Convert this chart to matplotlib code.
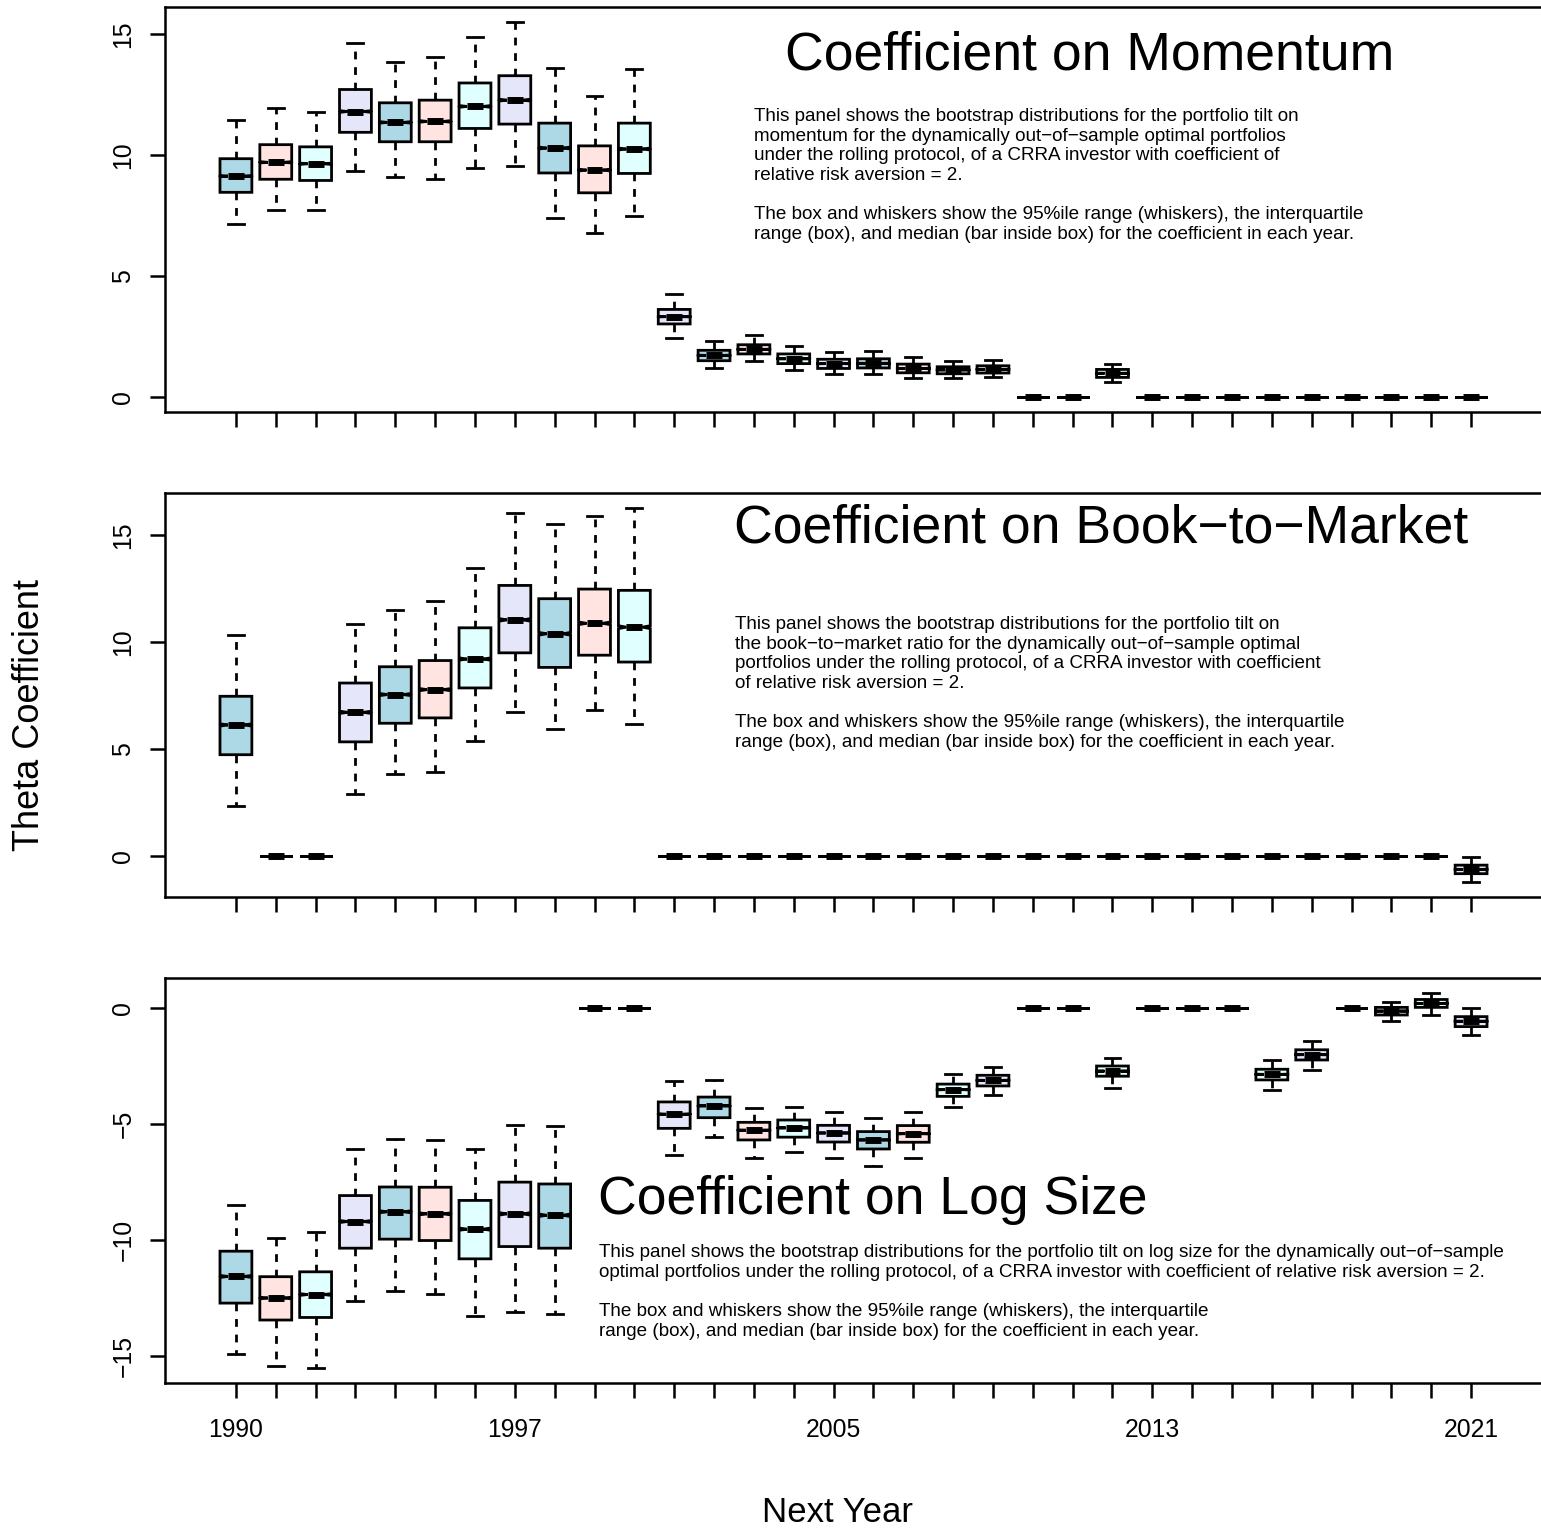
import matplotlib
matplotlib.use("Agg")
import matplotlib.pyplot as plt

plt.rcParams["font.family"] = ["Liberation Sans", "DejaVu Sans"]

# years on the x axis, only some of them get a printed label
years = list(range(1990, 2022))
shown_years = [1990, 1997, 2005, 2013, 2021]

box_fills = ["#ADD8E6", "#FFE4E1", "#E0FFFF", "#E6E6FA"]  # lightblue, mistyrose, lightcyan, lavender

# --- momentum panel: 95% whiskers, quartiles and median per year
mom_hi = [11.45, 11.96, 11.79, 14.63, 13.86, 14.05, 14.89, 15.50, 13.58, 12.44, 13.54,
          4.26, 2.31, 2.56, 2.09, 1.87, 1.90, 1.65, 1.49, 1.52, 0, 0, 1.36,
          0, 0, 0, 0, 0, 0, 0, 0, 0]
mom_q3 = [9.85, 10.43, 10.34, 12.71, 12.16, 12.27, 12.98, 13.28, 11.32, 10.38, 11.32,
          3.62, 1.93, 2.16, 1.78, 1.56, 1.58, 1.36, 1.25, 1.29, 0, 0, 1.14,
          0, 0, 0, 0, 0, 0, 0, 0, 0]
mom_med = [9.13, 9.70, 9.64, 11.80, 11.35, 11.39, 12.01, 12.27, 10.29, 9.38, 10.25,
           3.32, 1.72, 1.97, 1.58, 1.38, 1.39, 1.18, 1.12, 1.14, 0, 0, 0.98,
           0, 0, 0, 0, 0, 0, 0, 0, 0]
mom_q1 = [8.46, 9.00, 8.95, 10.94, 10.55, 10.55, 11.10, 11.28, 9.26, 8.44, 9.24,
          3.02, 1.50, 1.78, 1.38, 1.18, 1.20, 1.00, 0.96, 0.99, 0, 0, 0.81,
          0, 0, 0, 0, 0, 0, 0, 0, 0]
mom_lo = [7.16, 7.71, 7.75, 9.34, 9.10, 9.02, 9.48, 9.55, 7.40, 6.76, 7.48,
          2.43, 1.18, 1.47, 1.13, 0.94, 0.94, 0.77, 0.79, 0.83, 0, 0, 0.63,
          0, 0, 0, 0, 0, 0, 0, 0, 0]

# --- book-to-market panel
btm_hi = [10.35, 0, 0, 10.84, 11.50, 11.92, 13.47, 16.04, 15.51, 15.88, 16.27] + [0] * 20 + [-0.03]
btm_q3 = [7.47, 0, 0, 8.09, 8.85, 9.14, 10.67, 12.65, 12.03, 12.48, 12.42] + [0] * 20 + [-0.42]
btm_med = [6.13, 0, 0, 6.72, 7.55, 7.78, 9.21, 11.04, 10.39, 10.88, 10.70] + [0] * 20 + [-0.62]
btm_q1 = [4.74, 0, 0, 5.34, 6.21, 6.46, 7.86, 9.50, 8.82, 9.39, 9.07] + [0] * 20 + [-0.82]
btm_lo = [2.33, 0, 0, 2.89, 3.83, 3.94, 5.40, 6.74, 5.95, 6.81, 6.19] + [0] * 20 + [-1.21]

# --- log size panel
size_hi = [-8.51, -9.93, -9.67, -6.06, -5.63, -5.68, -6.06, -5.06, -5.09, 0, 0,
           -3.15, -3.12, -4.31, -4.27, -4.47, -4.74, -4.48, -2.86, -2.53, 0, 0,
           -2.14, 0, 0, 0, -2.26, -1.42, 0, 0.25, 0.65, 0.00]
size_q3 = [-10.49, -11.59, -11.38, -8.09, -7.72, -7.73, -8.30, -7.51, -7.59, 0, 0,
           -4.05, -3.84, -4.93, -4.83, -5.06, -5.33, -5.07, -3.28, -2.90, 0, 0,
           -2.50, 0, 0, 0, -2.64, -1.80, 0, 0.03, 0.37, -0.37]
size_med = [-11.58, -12.51, -12.36, -9.21, -8.79, -8.88, -9.54, -8.88, -8.94, 0, 0,
            -4.58, -4.22, -5.27, -5.17, -5.39, -5.69, -5.42, -3.52, -3.12, 0, 0,
            -2.72, 0, 0, 0, -2.86, -2.01, 0, -0.13, 0.20, -0.57]
size_q1 = [-12.73, -13.46, -13.35, -10.36, -9.97, -10.03, -10.82, -10.29, -10.36, 0, 0,
           -5.19, -4.73, -5.69, -5.57, -5.78, -6.08, -5.79, -3.81, -3.36, 0, 0,
           -2.94, 0, 0, 0, -3.10, -2.24, 0, -0.30, 0.03, -0.80]
size_lo = [-14.94, -15.46, -15.53, -12.66, -12.21, -12.33, -13.30, -13.13, -13.19, 0, 0,
           -6.34, -5.57, -6.45, -6.22, -6.45, -6.82, -6.47, -4.27, -3.75, 0, 0,
           -3.43, 0, 0, 0, -3.55, -2.66, 0, -0.57, -0.30, -1.18]

yticks_pos = [0, 5, 10, 15]
yticks_neg = [-15, -10, -5, 0]

body_end = ("The box and whiskers show the 95%ile range (whiskers), the interquartile\n"
            "range (box), and median (bar inside box) for the coefficient in each year.")
mom_title = "Coefficient on Momentum"
mom_text = ("This panel shows the bootstrap distributions for the portfolio tilt on\n"
            "momentum for the dynamically out\u2212of\u2212sample optimal portfolios\n"
            "under the rolling protocol, of a CRRA investor with coefficient of\n"
            "relative risk aversion = 2.\n\n" + body_end)
btm_title = "Coefficient on Book\u2212to\u2212Market"
btm_text = ("This panel shows the bootstrap distributions for the portfolio tilt on\n"
            "the book\u2212to\u2212market ratio for the dynamically out\u2212of\u2212sample optimal\n"
            "portfolios under the rolling protocol, of a CRRA investor with coefficient\n"
            "of relative risk aversion = 2.\n\n" + body_end)
size_title = "Coefficient on Log Size"
size_text = ("This panel shows the bootstrap distributions for the portfolio tilt on log size "
             "for the dynamically out\u2212of\u2212sample\n"
             "optimal portfolios under the rolling protocol, of a CRRA investor with "
             "coefficient of relative risk aversion = 2.\n\n" + body_end)

W, H = 1541, 1531
fig = plt.figure(figsize=(W / 100, H / 100), dpi=100)


def fx(px):
    return px / W


def fy(py):
    return 1 - py / H


def make_stats(lo, q1, med, q3, hi):
    stats = []
    for i in range(len(med)):
        iqr = q3[i] - q1[i]
        # small notch around the median, like R's notch=TRUE with many draws
        stats.append({"whislo": lo[i], "q1": q1[i], "med": med[i], "q3": q3[i],
                      "whishi": hi[i], "cilo": med[i] - 0.02 * iqr,
                      "cihi": med[i] + 0.02 * iqr, "fliers": []})
    return stats


def panel(top, bottom, stats, yticks, bottom_axis):
    ax = fig.add_axes([fx(165), fy(bottom), fx(1542) - fx(165), fy(top) - fy(bottom)])
    bp = ax.bxp(stats, positions=years, widths=0.8, capwidths=0.4,
                shownotches=True, patch_artist=True, showfliers=False,
                manage_ticks=False,
                boxprops=dict(edgecolor="black", linewidth=2.0),
                whiskerprops=dict(color="black", linewidth=2.0, linestyle=(0, (2.8, 2.8))),
                capprops=dict(color="black", linewidth=2.0),
                medianprops=dict(color="black", linewidth=5.0, solid_capstyle="butt"))
    for i, b in enumerate(bp["boxes"]):
        b.set_facecolor(box_fills[i % 4])

    # R style ranges: 4% padding around the data
    lo = min(s["whislo"] for s in stats)
    hi = max(s["whishi"] for s in stats)
    pad = 0.04 * (hi - lo)
    ax.set_ylim(lo - pad, hi + pad)
    ax.set_xlim(years[0] - 1.78, years[-1] + 1.78)

    ax.set_xticks(years)
    if bottom_axis:
        ax.set_xticklabels([str(y) if y in shown_years else "" for y in years])
    else:
        ax.set_xticklabels([""] * len(years))
    ax.set_yticks(yticks)
    ax.tick_params(direction="out", length=10.8, width=1.8, labelsize=17.8)
    ax.tick_params(axis="x", pad=14.5)
    ax.tick_params(axis="y", pad=10.5, labelrotation=90)
    for lab in ax.get_yticklabels():
        lab.set_va("center")
    for sp in ax.spines.values():
        sp.set_linewidth(1.8)
    return ax


panel(7, 412, make_stats(mom_lo, mom_q1, mom_med, mom_q3, mom_hi), yticks_pos, False)
panel(493, 897, make_stats(btm_lo, btm_q1, btm_med, btm_q3, btm_hi), yticks_pos, False)
panel(978, 1383, make_stats(size_lo, size_q1, size_med, size_q3, size_hi), yticks_neg, True)

# panel titles and notes
title_kw = dict(fontsize=38.5, ha="left", va="baseline")
note_kw = dict(fontsize=13.6, ha="left", va="center", linespacing=1.2)
fig.text(fx(785), fy(70), mom_title, **title_kw)
fig.text(fx(754), fy(175.5), mom_text, **note_kw)
fig.text(fx(734), fy(543), btm_title, **title_kw)
fig.text(fx(735), fy(683.5), btm_text, **note_kw)
fig.text(fx(598), fy(1214), size_title, **title_kw)
fig.text(fx(599), fy(1292), size_text, **note_kw)

fig.text(fx(30), fy(715), "Theta Coefficient", rotation=90, ha="center", va="center", fontsize=26)
fig.text(fx(837), fy(1512), "Next Year", ha="center", va="center", fontsize=25)

fig.savefig("out.png", dpi=100)
